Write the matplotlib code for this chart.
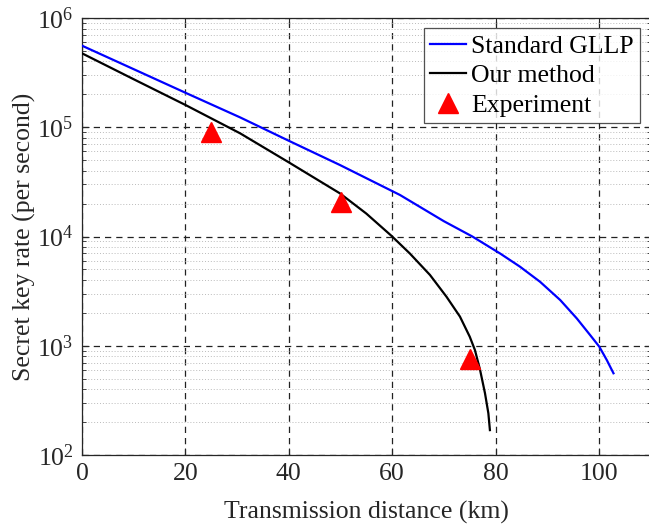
import matplotlib
matplotlib.use("Agg")
import matplotlib.pyplot as plt
from matplotlib.ticker import LogLocator, NullFormatter, MultipleLocator

plt.rcParams['font.family'] = ['Liberation Serif', 'DejaVu Serif']
plt.rcParams['mathtext.fontset'] = 'stix'

# Standard GLLP curve
gllp_x = [0, 10, 20, 30.6, 40.1, 49.9, 61.5, 70, 75.5, 80.85, 84.7, 88.6, 92.5, 95.7, 98.3, 100.06, 101.5, 102.8]
gllp_y = [5.58e5, 3.40e5, 2.07e5, 1.23e5, 7.48e4, 4.51e4, 2.40e4, 1.38e4, 1.0e4, 7.0e3,
          5.3e3, 3.85e3, 2.62e3, 1.78e3, 1.25e3, 980, 741, 560]

# Our method curve
our_x = [0, 10, 20, 30.6, 40.1, 49.9, 55, 59.9, 63.4, 67.3, 70.5, 73.1, 75.0, 76.0, 77.0, 77.95, 78.6, 78.9]
our_y = [4.75e5, 2.75e5, 1.60e5, 8.79e4, 4.74e4, 2.48e4, 1.62e4, 1.01e4, 7.0e3, 4.45e3,
         2.81e3, 1.85e3, 1.21e3, 914, 600, 367, 241, 169]

# Experiment points
exp_x = [25, 50, 75]
exp_y = [9.1e4, 2.07e4, 757]

fig = plt.figure(figsize=(6.49, 5.25), dpi=100)
ax = fig.add_axes([82/649, 1-455/525, (650.7-82)/649, 437/525])

ax.plot(gllp_x, gllp_y, color='#0000ff', lw=1.6, label='Standard GLLP', zorder=3)
ax.plot(our_x, our_y, color='black', lw=1.6, label='Our method', zorder=3)
ax.plot(exp_x, exp_y, linestyle='none', marker='^', color='red', markersize=14,
        label='Experiment', zorder=4)

ax.set_yscale('log')
ax.set_xlim(0, 110)
ax.set_ylim(1e2, 1e6)
ax.xaxis.set_major_locator(MultipleLocator(20))
ax.yaxis.set_major_locator(LogLocator(base=10, numticks=10))
ax.yaxis.set_minor_locator(LogLocator(base=10, subs=range(2, 10), numticks=50))
ax.yaxis.set_minor_formatter(NullFormatter())

ax.grid(True, which='major', axis='both', color='#222222', linestyle=(0, (5, 4)), lw=0.9)
ax.grid(True, which='minor', axis='y', color='#bbbbbb', linestyle=(0, (1, 2)), lw=0.7)
ax.set_axisbelow(True)

ax.tick_params(which='both', direction='in', top=True, right=True, labelsize=18.5, colors='#262626')
ax.tick_params(which='major', length=5, pad=6)
ax.tick_params(which='minor', length=3)
for s in ax.spines.values():
    s.set_color('#262626')
    s.set_linewidth(0.9)

ax.set_xlabel('Transmission distance (km)', fontsize=18.5, color='#262626', labelpad=11)
ax.set_ylabel('Secret key rate (per second)', fontsize=18.5, color='#262626', labelpad=1)

leg = ax.legend(loc='upper right', fontsize=18.5, frameon=True, fancybox=False,
                edgecolor='#262626', borderpad=0.25, labelspacing=0.25,
                handlelength=1.4, handletextpad=0.2, borderaxespad=0.4)
leg.get_frame().set_linewidth(0.9)

fig.savefig('out.png', dpi=100)
